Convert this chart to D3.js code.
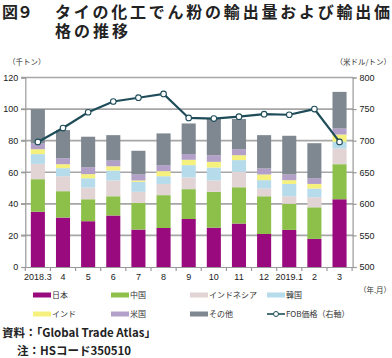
<!DOCTYPE html>
<html><head><meta charset="utf-8">
<script src="https://cdn.jsdelivr.net/npm/d3@7"></script>
<style>
html,body{margin:0;padding:0;background:#fff;}
svg{display:block;font-family:"Noto Sans CJK JP","Noto Sans",sans-serif;}
</style></head>
<body>
<svg id="c" width="392" height="358"></svg>
<script>
const months = ["2018.3","4","5","6","7","8","9","10","11","12","2019.1","2","3"];
const seriesNames = ["日本","中国","インドネシア","韓国","インド","米国","その他"];
const japan     = [35.0,31.3,29.0,32.6,23.7,24.7,30.4,24.9,27.5,20.9,23.5,17.8,42.9];
const china     = [20.6,16.7,13.9,12.2,16.9,20.8,18.9,22.7,23.0,23.9,16.5,20.0,22.2];
const indonesia = [9.7,9.5,7.4,10.0,7.0,7.1,7.4,7.2,9.8,4.9,4.8,6.4,10.0];
const korea     = [6.2,5.1,5.9,6.3,6.3,4.9,7.8,8.2,7.4,5.3,7.8,5.5,4.2];
const india     = [3.1,2.5,2.6,2.7,0.9,3.2,3.4,3.6,3.1,3.6,2.4,2.9,4.6];
const usa       = [3.6,3.8,4.4,3.6,3.8,3.8,3.6,4.2,3.8,3.8,3.6,3.6,3.8];
const others    = [21.8,17.8,19.3,16.1,15.0,20.1,19.4,23.3,19.1,21.1,24.5,22.2,23.2];
const fobPrice  = [698,720,745,762,768,774,736,735,738,742,741,750,698];
const leftTicks = [0,20,40,60,80,100,120];
const rightTicks = [500,550,600,650,700,750,800];
const colors = ["#990a7e","#8cc04b","#e2d3d4","#b6dbea","#f5f17c","#b3a0c9","#7f8891"];
const lineName = "FOB価格（右軸）";

const svg = d3.select("#c");
const table = months.map((m,i)=>({month:m,"日本":japan[i],"中国":china[i],"インドネシア":indonesia[i],"韓国":korea[i],"インド":india[i],"米国":usa[i],"その他":others[i],fob:fobPrice[i]}));

const x = d3.scaleBand().domain(months).range([25.3,352.1]).paddingInner(0.44).paddingOuter(0.22);
const y = d3.scaleLinear().domain([0,120]).range([267,77.5]);
const y2 = d3.scaleLinear().domain([500,800]).range([267,77.5]);

// title
const tf = 16;
svg.append("text").attr("x",2).attr("y",18).attr("font-size",tf).attr("font-weight","bold").attr("fill","#222")
  .attr("textLength",31).attr("lengthAdjust","spacing").text("図９");
svg.append("text").attr("x",55).attr("y",18).attr("font-size",tf).attr("font-weight","bold").attr("fill","#222")
  .attr("textLength",335).attr("lengthAdjust","spacing").text("タイの化工でん粉の輸出量および輸出価");
svg.append("text").attr("x",55).attr("y",37).attr("font-size",tf).attr("font-weight","bold").attr("fill","#222")
  .attr("textLength",73).attr("lengthAdjust","spacing").text("格の推移");

// unit labels
svg.append("text").attr("x",8).attr("y",65).attr("font-size",7.5).attr("fill","#333").text("（千トン）");
svg.append("text").attr("x",391).attr("y",65).attr("font-size",7.5).attr("fill","#333").attr("text-anchor","end").text("（米ドル/トン）");

// gridlines
svg.append("g").selectAll("line").data(leftTicks.filter(d=>d>0)).join("line")
  .attr("x1",21).attr("x2",353).attr("y1",d=>y(d)).attr("y2",d=>y(d))
  .attr("stroke","#a6a6a6").attr("stroke-width",1.6);

// stacked bars
const stack = d3.stack().keys(seriesNames)(table);
svg.append("g").selectAll("g").data(stack).join("g").attr("fill",(d,i)=>colors[i])
  .selectAll("rect").data(d=>d).join("rect")
  .attr("x",d=>x(d.data.month)).attr("width",x.bandwidth())
  .attr("y",d=>y(d[1])).attr("height",d=>y(d[0])-y(d[1]));

// axes
const gL = svg.append("g").attr("transform","translate(25.3,0)")
  .call(d3.axisLeft(y).tickValues(leftTicks).tickSize(4).tickPadding(3));
const gR = svg.append("g").attr("transform","translate(352.6,0)")
  .call(d3.axisRight(y2).tickValues(rightTicks).tickSize(4).tickPadding(3));
const gB = svg.append("g").attr("transform","translate(0,267)")
  .call(d3.axisBottom(x).tickSize(0).tickPadding(7));
[gL,gR,gB].forEach(g=>{
  g.selectAll("path.domain").attr("stroke","#999").attr("stroke-width",1.2);
  g.selectAll(".tick line").attr("stroke","#999").attr("stroke-width",1.2);
  g.selectAll("text").attr("font-size",9).attr("fill","#222").attr("font-family","Liberation Sans, Arial, sans-serif");
});
// category boundary ticks
const step = x.step();
svg.append("g").selectAll("line").data(d3.range(months.length+1)).join("line")
  .attr("x1",i=>25.3+i*step).attr("x2",i=>25.3+i*step).attr("y1",267).attr("y2",271)
  .attr("stroke","#999").attr("stroke-width",1.2);

svg.append("text").attr("x",391).attr("y",293).attr("font-size",7.5).attr("fill","#333").attr("text-anchor","end").text("（年.月）");

// line
const line = d3.line().x(d=>x(d.month)+x.bandwidth()/2).y(d=>y2(d.fob));
svg.append("path").datum(table).attr("d",line).attr("fill","none").attr("stroke","#1e4d59").attr("stroke-width",2.2);
svg.append("g").selectAll("circle").data(table).join("circle")
  .attr("cx",d=>x(d.month)+x.bandwidth()/2).attr("cy",d=>y2(d.fob)).attr("r",2.8)
  .attr("fill","#fff").attr("stroke","#1e4d59").attr("stroke-width",1.1);

// legend
const legItems = seriesNames.map((n,i)=>({name:n,color:colors[i],type:"bar"})).concat([{name:lineName,color:"#1e4d59",type:"line"}]);
const colX = [33,111,190,267];
const rowY = [295,314];
const lg = svg.append("g");
legItems.forEach((d,i)=>{
  const cx = colX[i%4], cy = rowY[Math.floor(i/4)];
  if(d.type==="bar"){
    lg.append("rect").attr("x",cx).attr("y",cy-2.5).attr("width",18).attr("height",5).attr("fill",d.color);
  } else {
    lg.append("line").attr("x1",cx).attr("x2",cx+18).attr("y1",cy).attr("y2",cy).attr("stroke",d.color).attr("stroke-width",1.6);
    lg.append("circle").attr("cx",cx+9).attr("cy",cy).attr("r",2.5).attr("fill","#fff").attr("stroke",d.color).attr("stroke-width",1);
  }
  lg.append("text").attr("x",cx+19).attr("y",cy+3).attr("font-size",8).attr("fill","#333").text(d.name);
});

// source notes
svg.append("text").attr("x",2).attr("y",337).attr("font-size",11.5).attr("font-weight","600").attr("fill","#222").text("資料：「Global Trade Atlas」");
svg.append("text").attr("x",17).attr("y",355).attr("font-size",11.5).attr("font-weight","600").attr("fill","#222").text("注：HSコード350510");
</script>
</body></html>
